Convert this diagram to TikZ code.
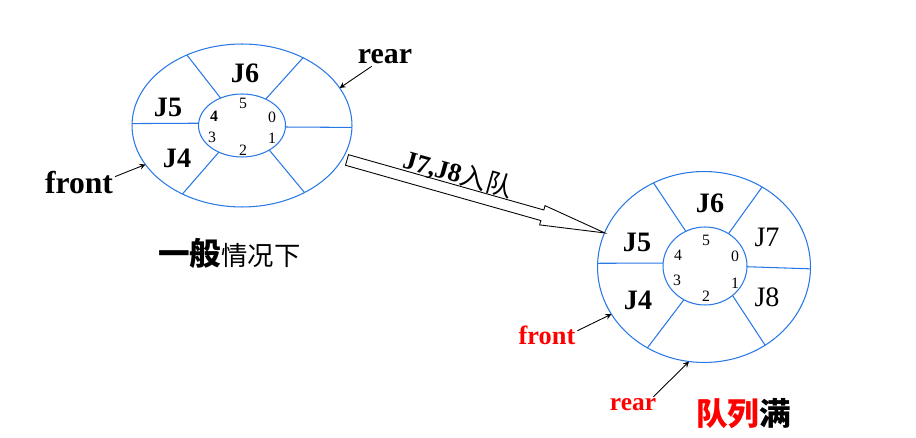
\documentclass[tikz,border=0pt]{standalone}
\usepackage{xcolor}
\usepackage{tikz}
\usepackage{fontspec}
\setmainfont{Liberation Serif}
\newfontfamily\cjk{Noto Sans CJK SC}
\usetikzlibrary{shapes.geometric, arrows}

\definecolor{ringblue}{RGB}{40,120,230}
\newcommand{\fs}[1]{\fontsize{#1}{#1}\selectfont}

\tikzset{
  ring/.style={ellipse, draw=ringblue, line width=0.6pt, inner sep=0pt, outer sep=0pt},
  spoke/.style={draw=ringblue, line width=0.6pt},
  slot/.style={font=\bfseries\fs{16}, inner sep=1pt},
  slotplain/.style={font=\fs{16}, inner sep=1pt},
  idx/.style={font=\fs{9}, inner sep=0pt},
  ptr/.style={->, >=stealth, line width=0.5pt},
  tag/.style={font=\bfseries\fs{#1}, inner sep=1pt}
}

\begin{document}
\begin{tikzpicture}[x=0.02cm, y=-0.02cm]
    \useasboundingbox (0,0) rectangle (916,438);

    % Left queue (general case)
    \node (rimL) [ring, minimum width=4.4cm, minimum height=3.26cm] at (242,125.5) {};
    \node (hubL) [ring, minimum width=1.74cm, minimum height=1.26cm] at (242,125.5) {};
    \foreach \a/\b in {177/179, -2/-1, 128/128, 48/48, 229/229, -42/-47}
        \draw [spoke] (hubL.\a) -- (rimL.\b);

    \node (J6L) [slot] at (245,73) {J6};
    \node (J5L) [slot] at (168,107) {J5};
    \node (J4L) [slot] at (177,158) {J4};

    \node [idx] at (243,103) {5};
    \node [idx, font=\bfseries\fs{9}] at (214,116) {4};
    \node [idx] at (272,117) {0};
    \node [idx] at (212,137) {3};
    \node [idx] at (272,138) {1};
    \node [idx] at (243,150) {2};

    \node (rearL) [tag=17] at (385,57) {rear};
    \node (frontL) [tag=18] at (79,183) {front};
    \draw [ptr] (rearL.215) -- (rimL.21);
    \draw [ptr] (frontL.10) -- (rimL.202);

    \node (capL) [anchor=base] at (229.5,266)
        {{\cjk\bfseries\fs{18}一般}{\cjk\fs{15}情况下}};

    % Right queue (full)
    \node (rimR) [ring, minimum width=4.26cm, minimum height=3.82cm] at (704,267) {};
    \node (hubR) [ring, minimum width=1.68cm, minimum height=1.56cm] at (705,266) {};
    \foreach \a/\b in {176/178, -1/-1, 119/121, 54/54, 238/235, -47/-52}
        \draw [spoke] (hubR.\a) -- (rimR.\b);

    \node (J6R) [slot] at (710,203) {J6};
    \node (J5R) [slot] at (637,242) {J5};
    \node (J4R) [slot] at (638,300) {J4};
    \node (J7R) [slotplain] at (767,237) {J7};
    \node (J8R) [slotplain] at (767,297) {J8};

    \node [idx] at (706,240) {5};
    \node [idx] at (678,255) {4};
    \node [idx] at (735,256) {0};
    \node [idx] at (677,280) {3};
    \node [idx] at (735,283) {1};
    \node [idx] at (706,296) {2};

    \node (frontR) [tag=15, text=red] at (547,335) {front};
    \node (rearR) [tag=14.5, text=red] at (633,405) {rear};
    \draw [ptr] (frontR.8) -- (rimR.207);
    \draw [ptr] (rearR.22) -- (rimR.261);

    \node (capR) [anchor=base] at (743.5,426)
        {\cjk\bfseries\fs{18}{\color{red}队列}满};

    % Enqueue arrow
    \begin{scope}[shift={(347,160)}, rotate=-15.8]
        \draw [line width=0.5pt] (0,-5.5) -- (203,-5.5) -- (203,-10) -- (268,0)
            -- (203,10) -- (203,5.5) -- (0,5.5) -- cycle;
    \end{scope}
    \node (push) [rotate=-15.8, inner sep=0pt] at (458,174)
        {{\bfseries\fs{15}J7,J8}{\cjk\fs{15}入队}};
\end{tikzpicture}
\end{document}
